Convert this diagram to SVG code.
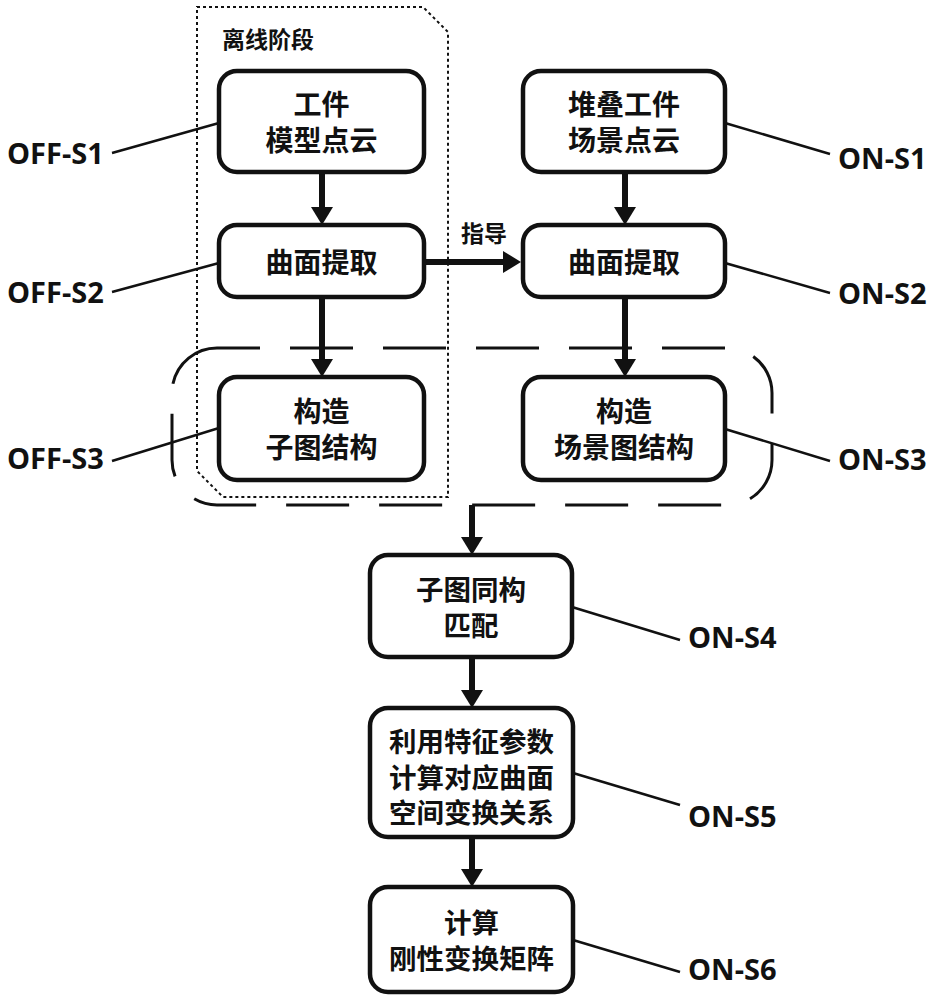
<svg xmlns="http://www.w3.org/2000/svg" width="943" height="1000" viewBox="0 0 943 1000">
<defs>
<style>
.box{fill:#fff;stroke:#111;stroke-width:4.5}
.t{font-family:"Noto Sans CJK SC","Noto Sans",sans-serif;font-weight:bold;font-size:28px;fill:#111;text-anchor:middle;dominant-baseline:central}
.s{font-size:27.5px}
.lbl{font-family:"Open Sans","Liberation Sans",sans-serif;font-weight:bold;font-size:29px;fill:#111}
.lead{stroke:#111;stroke-width:2.5;fill:none}
.arr{stroke:#111;stroke-width:6;fill:none;marker-end:url(#ah)}
</style>
<marker id="ah" markerUnits="userSpaceOnUse" markerWidth="20" markerHeight="22" viewBox="0 0 18 22" refX="0" refY="11" orient="auto">
<path d="M0,0 L18,11 L0,22 Z" fill="#111"/>
</marker>
</defs>
<rect width="943" height="1000" fill="#fff"/>
<g id="offline-stage">
<path d="M197,7 H423 L448,32 V497 H223 L197,471 Z" fill="none" stroke="#111" stroke-width="2" stroke-dasharray="3 3"/>
<text x="222" y="38" style="font-family:'Noto Sans CJK SC',sans-serif;font-weight:bold;font-size:23px;fill:#111;dominant-baseline:central">离线阶段</text>
</g>
<g id="graph-group">
<rect x="172" y="348" width="600" height="157" rx="45" ry="45" fill="none" stroke="#111" stroke-width="3" stroke-dasharray="63 30" stroke-dashoffset="20"/>
</g>
<g id="connectors">
<line class="arr" x1="322" y1="174" x2="322" y2="207"/>
<line class="arr" x1="322" y1="299" x2="322" y2="359"/>
<line class="arr" x1="625" y1="174" x2="625" y2="207"/>
<line class="arr" x1="625" y1="299" x2="625" y2="359"/>
<line class="arr" x1="426" y1="262" x2="503" y2="262"/>
<line class="arr" x1="472" y1="505" x2="472" y2="537"/>
<line class="arr" x1="472" y1="659" x2="472" y2="690"/>
<line class="arr" x1="472" y1="839" x2="472" y2="869"/>
<text x="484" y="232" style="font-family:'Noto Sans CJK SC',sans-serif;font-weight:bold;font-size:23px;fill:#111;text-anchor:middle;dominant-baseline:central">指导</text>
<line class="lead" x1="112" y1="153" x2="219" y2="123"/>
<line class="lead" x1="112" y1="292" x2="219" y2="263"/>
<line class="lead" x1="112" y1="461" x2="219" y2="428"/>
<line class="lead" x1="725" y1="123" x2="830" y2="154"/>
<line class="lead" x1="725" y1="263" x2="830" y2="293"/>
<line class="lead" x1="725" y1="429" x2="830" y2="461"/>
<line class="lead" x1="572" y1="607" x2="680" y2="640"/>
<line class="lead" x1="573" y1="773" x2="680" y2="805"/>
<line class="lead" x1="573" y1="940" x2="680" y2="972"/>
</g>
<g id="off-s1">
<rect class="box" x="219" y="71" width="205" height="101" rx="18"/>
<text class="t" x="321.5" y="103">工件<tspan x="321.5" dy="36">模型点云</tspan></text>
<text class="lbl" x="7" y="164">OFF-S1</text>
</g>
<g id="off-s2">
<rect class="box" x="219" y="225" width="205" height="72" rx="18"/>
<text class="t" x="321.5" y="261">曲面提取</text>
<text class="lbl" x="7" y="303">OFF-S2</text>
</g>
<g id="off-s3">
<rect class="box" x="219" y="377" width="205" height="103" rx="18"/>
<text class="t" x="321.5" y="410">构造<tspan x="321.5" dy="36">子图结构</tspan></text>
<text class="lbl" x="7" y="469">OFF-S3</text>
</g>
<g id="on-s1">
<rect class="box" x="523" y="71" width="202" height="101" rx="18"/>
<text class="t" x="624" y="103">堆叠工件<tspan x="624" dy="36">场景点云</tspan></text>
<text class="lbl" x="838" y="169">ON-S1</text>
</g>
<g id="on-s2">
<rect class="box" x="523" y="225" width="202" height="72" rx="18"/>
<text class="t" x="624" y="261">曲面提取</text>
<text class="lbl" x="838" y="304">ON-S2</text>
</g>
<g id="on-s3">
<rect class="box" x="523" y="377" width="202" height="103" rx="18"/>
<text class="t" x="624" y="410">构造<tspan x="624" dy="36">场景图结构</tspan></text>
<text class="lbl" x="838" y="470">ON-S3</text>
</g>
<g id="on-s4">
<rect class="box" x="370" y="555" width="202" height="102" rx="18"/>
<text class="t s" x="471" y="588">子图同构<tspan x="471" dy="35.5">匹配</tspan></text>
<text class="lbl" x="688" y="648">ON-S4</text>
</g>
<g id="on-s5">
<rect class="box" x="370" y="708" width="203" height="129" rx="18"/>
<text class="t s" x="471.5" y="740">利用特征参数<tspan x="471.5" dy="35.5">计算对应曲面</tspan><tspan x="471.5" dy="35.5">空间变换关系</tspan></text>
<text class="lbl" x="688" y="827">ON-S5</text>
</g>
<g id="on-s6">
<rect class="box" x="370" y="887" width="203" height="105" rx="18"/>
<text class="t s" x="471.5" y="921">计算<tspan x="471.5" dy="35.5">刚性变换矩阵</tspan></text>
<text class="lbl" x="688" y="980">ON-S6</text>
</g>
</svg>
